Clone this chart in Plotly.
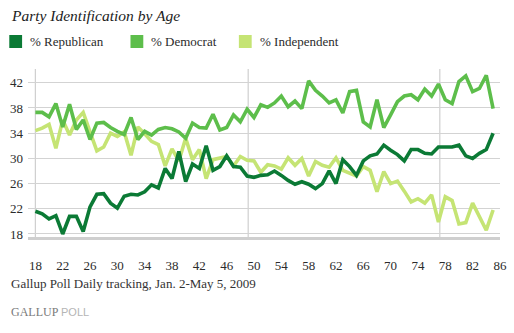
import plotly.graph_objects as go

# Ages 18 through 85 (one point per year of age)
ages = list(range(18, 86))

republican = [
    21.6, 21.2, 20.4, 20.9, 18.0, 20.8, 20.8, 18.4, 22.3, 24.3,  # 18-27
    24.4, 22.9, 22.1, 24.0, 24.3, 24.2, 24.7, 25.8, 25.3, 28.4,  # 28-37
    26.8, 31.1, 26.3, 29.1, 28.4, 32.0, 28.1, 28.7, 30.4, 28.7,  # 38-47
    28.6, 27.2, 27.0, 27.3, 27.4, 28.0, 27.3, 26.5, 25.9, 26.3,  # 48-57
    25.9, 25.2, 26.0, 28.0, 26.0, 29.8, 28.7, 27.3, 29.6, 30.4,  # 58-67
    30.7, 32.1, 31.3, 30.6, 29.6, 31.4, 31.4, 30.8, 30.7, 31.8,  # 68-77
    31.8, 31.8, 32.1, 30.4, 30.0, 30.8, 31.4, 34.0,              # 78-85
]

democrat = [
    37.3, 37.3, 36.6, 38.7, 35.0, 38.6, 34.6, 36.1, 33.0, 35.6,  # 18-27
    35.7, 34.9, 34.3, 33.8, 36.5, 33.0, 34.3, 33.7, 34.6, 34.9,  # 28-37
    34.7, 34.2, 33.2, 35.6, 34.9, 34.8, 37.0, 34.5, 34.9, 36.9,  # 38-47
    35.8, 37.8, 36.5, 38.5, 38.1, 38.8, 39.9, 38.2, 39.1, 37.9,  # 48-57
    42.3, 40.8, 39.9, 38.8, 39.3, 37.2, 40.6, 40.8, 35.8, 35.0,  # 58-67
    39.3, 34.9, 36.9, 39.0, 39.9, 40.1, 39.3, 41.0, 39.9, 41.8,  # 68-77
    39.3, 38.7, 42.2, 43.1, 40.6, 41.1, 43.2, 37.9,              # 78-85
]

independent = [
    34.4, 34.8, 35.4, 31.6, 36.1, 33.7, 36.1, 37.3, 34.2, 31.2,  # 18-27
    31.8, 34.0, 33.5, 34.2, 30.5, 35.0, 33.9, 32.7, 32.2, 28.8,  # 28-37
    31.5, 29.6, 33.2, 29.8, 31.4, 26.8, 29.8, 30.1, 30.3, 28.8,  # 38-47
    30.3, 29.7, 29.6, 27.8, 29.0, 28.8, 28.3, 30.1, 28.9, 30.0,  # 48-57
    27.2, 29.5, 28.9, 28.6, 30.1, 28.1, 27.7, 27.2, 28.7, 28.1,  # 58-67
    24.7, 27.9, 26.0, 26.4, 24.8, 23.1, 23.6, 22.9, 24.2, 19.9,  # 68-77
    23.9, 23.3, 19.6, 19.8, 22.9, 20.7, 18.6, 21.8,              # 78-85
]

x_tick_labels = list(range(18, 87, 4))
y_tick_labels = list(range(18, 43, 4))

series = [
    ("% Republican", republican, "#0B7A35"),
    ("% Democrat", democrat, "#5DBE4B"),
    ("% Independent", independent, "#C5E474"),
]

# Canvas and plot-area geometry (pixels)
WIDTH, HEIGHT = 514, 333
L, R, T, B = 28, 507, 69, 237
PW, PH = R - L, B - T


def px(x):
    return (x - L) / PW


def py(y):
    return (B - y) / PH


SERIF = "Liberation Serif, Times New Roman, serif"
TEXT = "#2b2b2b"

fig = go.Figure()

# Draw Independent first so the party lines sit on top
for name, values, color in reversed(series):
    fig.add_trace(go.Scatter(
        x=ages, y=values, mode="lines", name=name,
        line=dict(color=color, width=3.6, shape="linear"),
        hoverinfo="x+y+name",
    ))

shapes = []
# Vertical reference lines: the left axis and two dividers
for xv in (ages[0], 49.15, 77.2):
    shapes.append(dict(
        type="line", xref="x", yref="paper", x0=xv, x1=xv, y0=0, y1=1,
        line=dict(color="#cfcfcf", width=1.2), layer="below",
    ))

annotations = [
    dict(text="<i>Party Identification by Age</i>", x=px(9), y=py(15),
         xref="paper", yref="paper", xanchor="left", yanchor="middle",
         showarrow=False, font=dict(family=SERIF, size=15.5, color="#222")),
    dict(text="Gallup Poll Daily tracking, Jan. 2-May 5, 2009",
         x=px(9), y=py(283), xref="paper", yref="paper",
         xanchor="left", yanchor="middle", showarrow=False,
         font=dict(family=SERIF, size=13, color="#333")),
    dict(text="GALLUP", x=px(9), y=py(312), xref="paper", yref="paper",
         xanchor="left", yanchor="middle", showarrow=False,
         font=dict(family=SERIF, size=12, color="#7a7a7a")),
    dict(text="POLL", x=px(59), y=py(312), xref="paper", yref="paper",
         xanchor="left", yanchor="middle", showarrow=False,
         font=dict(family="Liberation Sans, Arial, sans-serif", size=11,
                   color="#b5b5b5")),
]

# Legend: colored squares followed by serif labels
legend_x = [9, 132, 242]
for (name, _, color), lx in zip(series, legend_x):
    shapes.append(dict(
        type="rect", xref="paper", yref="paper",
        x0=px(lx), x1=px(lx + 13), y0=py(48), y1=py(35),
        fillcolor=color, line=dict(width=0),
    ))
    annotations.append(dict(
        text=name, x=px(lx + 19), y=py(41.5), xref="paper", yref="paper",
        xanchor="left", yanchor="middle", showarrow=False,
        font=dict(family=SERIF, size=13, color=TEXT),
    ))

fig.update_layout(
    width=WIDTH, height=HEIGHT,
    margin=dict(l=L, r=WIDTH - R, t=T, b=HEIGHT - B, pad=0),
    paper_bgcolor="white", plot_bgcolor="white",
    showlegend=False,
    shapes=shapes, annotations=annotations,
    xaxis=dict(
        range=[16.92, 86.01], tickvals=x_tick_labels,
        ticktext=[str(v) for v in x_tick_labels],
        showgrid=False, zeroline=False, ticks="",
        showline=True, linecolor="#cfcfcf", linewidth=2.5,
        ticklabelstandoff=15,
        tickfont=dict(family=SERIF, size=13, color=TEXT),
    ),
    yaxis=dict(
        range=[17.52, 44.19], tickvals=y_tick_labels,
        ticktext=[str(v) for v in y_tick_labels],
        showgrid=True, gridcolor="#d3d3d3", gridwidth=1,
        zeroline=False, ticks="", showline=False,
        ticklabelstandoff=4,
        tickfont=dict(family=SERIF, size=13, color=TEXT),
    ),
)

fig.write_html("out.html")
